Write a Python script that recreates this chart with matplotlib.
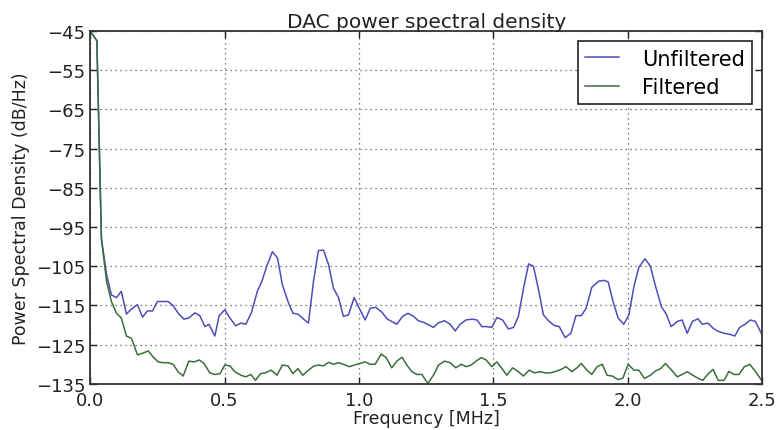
import matplotlib
matplotlib.use('Agg')
import matplotlib.pyplot as plt

# frequency [MHz] and PSD [dB/Hz]
freq_unf = [0.000, 0.025, 0.042, 0.061, 0.079, 0.098, 0.116, 0.135, 0.154, 0.176,
            0.195, 0.213, 0.232, 0.250, 0.272, 0.290, 0.309, 0.330, 0.349, 0.367,
            0.390, 0.408, 0.427, 0.442, 0.464, 0.480, 0.501, 0.520, 0.541, 0.561,
            0.579, 0.600, 0.622, 0.639, 0.657, 0.678, 0.697, 0.715, 0.736, 0.754,
            0.773, 0.794, 0.812, 0.831, 0.849, 0.868, 0.887, 0.905, 0.924, 0.942,
            0.961, 0.982, 1.001, 1.023, 1.042, 1.063, 1.085, 1.104, 1.122, 1.141,
            1.162, 1.182, 1.203, 1.221, 1.240, 1.261, 1.277, 1.296, 1.318, 1.339,
            1.358, 1.376, 1.398, 1.420, 1.439, 1.457, 1.476, 1.494, 1.513, 1.534,
            1.556, 1.575, 1.593, 1.612, 1.631, 1.649, 1.668, 1.686, 1.705, 1.726,
            1.745, 1.767, 1.788, 1.807, 1.827, 1.845, 1.866, 1.892, 1.911, 1.927,
            1.945, 1.964, 1.985, 2.004, 2.023, 2.041, 2.064, 2.084, 2.103, 2.125,
            2.143, 2.161, 2.184, 2.202, 2.221, 2.240, 2.261, 2.277, 2.298, 2.317,
            2.336, 2.358, 2.376, 2.398, 2.416, 2.436, 2.456, 2.475, 2.500]
psd_unf = [-45.0, -47.5, -98.0, -107.0, -112.3, -113.0, -111.4, -117.2, -115.9, -114.8,
           -118.0, -116.4, -116.4, -114.0, -114.0, -114.0, -115.1, -117.2, -118.5, -118.2,
           -116.9, -117.6, -120.4, -119.8, -122.8, -117.6, -116.1, -118.2, -120.2, -119.5,
           -119.8, -116.8, -111.4, -108.8, -105.0, -101.3, -102.9, -109.7, -114.0, -117.0,
           -117.2, -118.5, -119.5, -108.8, -101.0, -100.9, -104.6, -110.6, -113.0, -117.8,
           -117.4, -113.0, -115.7, -118.7, -115.7, -115.5, -116.7, -118.4, -119.1, -119.8,
           -117.8, -117.0, -117.8, -118.9, -119.3, -120.0, -120.6, -119.4, -118.9, -119.8,
           -121.5, -119.8, -118.7, -118.5, -118.7, -120.4, -120.4, -120.6, -118.1, -118.7,
           -121.0, -120.6, -117.8, -110.6, -104.4, -105.0, -111.0, -117.4, -118.9, -120.1,
           -120.4, -123.2, -122.1, -117.6, -117.6, -115.7, -110.4, -108.8, -108.6, -109.0,
           -114.0, -118.2, -119.8, -117.4, -110.1, -105.3, -103.1, -105.0, -110.1, -115.3,
           -117.2, -120.4, -119.1, -118.7, -122.1, -119.1, -118.4, -119.8, -119.5, -120.8,
           -121.6, -122.1, -122.3, -122.8, -120.6, -119.8, -118.7, -119.1, -122.6]

freq_filt = [0.000, 0.025, 0.042, 0.061, 0.079, 0.098, 0.116, 0.135, 0.154, 0.176,
             0.195, 0.216, 0.234, 0.253, 0.272, 0.290, 0.309, 0.327, 0.346, 0.367,
             0.387, 0.406, 0.424, 0.445, 0.464, 0.483, 0.501, 0.520, 0.538, 0.561,
             0.579, 0.598, 0.615, 0.634, 0.651, 0.673, 0.695, 0.715, 0.736, 0.754,
             0.773, 0.791, 0.812, 0.831, 0.849, 0.868, 0.887, 0.905, 0.924, 0.942,
             0.964, 0.983, 1.002, 1.023, 1.042, 1.060, 1.083, 1.101, 1.122, 1.141,
             1.160, 1.178, 1.197, 1.215, 1.234, 1.256, 1.277, 1.296, 1.318, 1.339,
             1.360, 1.380, 1.399, 1.417, 1.435, 1.455, 1.473, 1.494, 1.513, 1.532,
             1.550, 1.571, 1.593, 1.612, 1.633, 1.653, 1.674, 1.693, 1.711, 1.733,
             1.752, 1.770, 1.792, 1.811, 1.827, 1.848, 1.866, 1.886, 1.905, 1.923,
             1.942, 1.964, 1.982, 2.001, 2.023, 2.041, 2.062, 2.084, 2.103, 2.122,
             2.140, 2.163, 2.184, 2.202, 2.221, 2.242, 2.262, 2.279, 2.299, 2.317,
             2.336, 2.358, 2.376, 2.395, 2.413, 2.434, 2.454, 2.475, 2.500]
psd_filt = [-45.0, -47.5, -98.0, -108.8, -114.0, -117.0, -118.2, -122.8, -123.4, -127.6,
            -127.2, -126.6, -128.1, -129.4, -129.6, -129.6, -130.0, -131.9, -133.0, -129.2,
            -129.4, -128.9, -129.8, -132.2, -132.6, -132.4, -130.2, -130.4, -131.9, -132.8,
            -133.2, -132.6, -134.1, -132.4, -132.2, -131.5, -132.8, -130.2, -130.4, -132.4,
            -131.1, -132.8, -131.5, -130.5, -130.2, -130.4, -129.5, -130.0, -129.6, -130.0,
            -130.6, -130.2, -129.8, -129.4, -130.0, -130.0, -127.4, -128.3, -130.9, -129.2,
            -128.2, -130.2, -131.9, -132.6, -132.6, -134.9, -132.8, -130.2, -129.2, -129.6,
            -130.9, -130.0, -130.6, -130.2, -129.2, -128.3, -128.9, -130.6, -129.4, -131.1,
            -132.8, -130.9, -131.9, -133.0, -131.5, -132.2, -131.9, -132.2, -132.2, -131.8,
            -131.3, -130.6, -131.9, -130.9, -129.8, -131.5, -132.6, -130.6, -130.0, -132.8,
            -133.0, -133.9, -133.5, -130.0, -131.5, -131.5, -133.6, -132.8, -131.7, -131.1,
            -129.8, -131.5, -133.2, -132.6, -131.9, -132.8, -133.6, -134.1, -132.4, -131.3,
            -134.1, -134.1, -131.8, -132.6, -132.6, -130.6, -130.0, -131.9, -134.3]

y_ticks = [-45, -55, -65, -75, -85, -95, -105, -115, -125, -135]
x_ticks = [0.0, 0.5, 1.0, 1.5, 2.0, 2.5]

plt.rcParams['font.family'] = ['DejaVu Sans']

fig = plt.figure(figsize=(7.77, 4.31), dpi=100)
ax = fig.add_axes([0.116, 0.107, 0.865, 0.819])

ax.plot(freq_unf, psd_unf, color='#4d4dbb', linewidth=1.1, label='Unfiltered')
ax.plot(freq_filt, psd_filt, color='#3a6e3a', linewidth=1.1, label='Filtered')

ax.set_xlim(0, 2.5)
ax.set_ylim(-135, -45)
ax.set_xticks(x_ticks)
ax.set_yticks(y_ticks)
ax.tick_params(direction='in', top=True, right=True, length=5, width=1,
               labelsize=13, colors='#222222')
ax.tick_params(axis='x', pad=5)
ax.grid(True, linestyle=(0, (1, 3)), color='#555555', linewidth=0.9)
for sp in ax.spines.values():
    sp.set_linewidth(1.3)
    sp.set_color('#333333')

ax.set_title('DAC power spectral density', fontsize=14.5, color='#222222', pad=3)
ax.set_xlabel('Frequency [MHz]', fontsize=12.5, color='#222222', labelpad=0)
ax.set_ylabel('Power Spectral Density (dB/Hz)', fontsize=12.5, color='#222222')

leg = ax.legend(loc='upper right', fontsize=15, fancybox=False, framealpha=1,
                edgecolor='#222222', handlelength=1.6, borderpad=0.35,
                labelspacing=0.4, handletextpad=1.1, borderaxespad=0.5)
leg.get_frame().set_linewidth(1.2)

fig.savefig('out.png', dpi=100, facecolor='white')
